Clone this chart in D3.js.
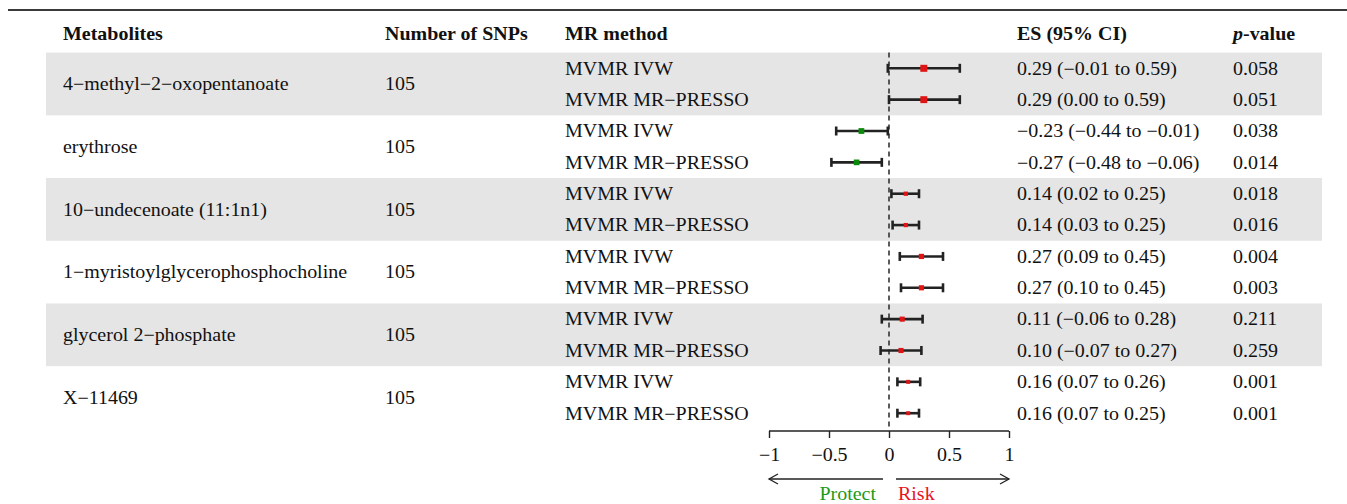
<!DOCTYPE html>
<html>
<head>
<meta charset="utf-8">
<script src="https://cdn.jsdelivr.net/npm/d3@7"></script>
<style>
  html, body { margin: 0; padding: 0; background: #fff; }
  svg { display: block; }
  text { font-family: "Liberation Serif", "Times New Roman", serif; fill: #111; }
</style>
</head>
<body>
<svg id="chart" width="1347" height="504"></svg>
<script>
// ---------------- DATA ----------------
const metabolites = ["4\u2212methyl\u22122\u2212oxopentanoate", "erythrose", "10\u2212undecenoate (11:1n1)",
  "1\u2212myristoylglycerophosphocholine", "glycerol 2\u2212phosphate", "X\u221211469"];
const nSNPs = [105, 105, 105, 105, 105, 105];
const methods = ["MVMR IVW", "MVMR MR\u2212PRESSO"];
const estimates = [0.29, 0.29, -0.23, -0.27, 0.14, 0.14, 0.27, 0.27, 0.11, 0.10, 0.16, 0.16];
const lowerCI   = [-0.01, 0.00, -0.44, -0.48, 0.02, 0.03, 0.09, 0.10, -0.06, -0.07, 0.07, 0.07];
const upperCI   = [0.59, 0.59, -0.01, -0.06, 0.25, 0.25, 0.45, 0.45, 0.28, 0.27, 0.26, 0.25];
const pValues   = ["0.058", "0.051", "0.038", "0.014", "0.018", "0.016", "0.004", "0.003", "0.211", "0.259", "0.001", "0.001"];
const axisTicks = [-1, -0.5, 0, 0.5, 1];
const headers = ["Metabolites", "Number of SNPs", "MR method", "ES (95% CI)"];

// ---------------- LAYOUT ----------------
const svg = d3.select("#chart");
const FS = 18;
const SX = 1.11; // horizontal stretch of the reference text
const colX = { met: 63, snp: 385, method: 565, es: 1017, p: 1233 };
const x = d3.scaleLinear().domain([-1, 1]).range([769, 1009]);
const y = d3.scaleLinear().domain([0, 11]).range([68.3, 413.2]);
const step = y(1) - y(0);
const nRows = estimates.length;

const fmt = v => (v < 0 ? "\u2212" : "") + Math.abs(v).toFixed(2);
const esLabel = i => `${fmt(estimates[i])} (${fmt(lowerCI[i])} to ${fmt(upperCI[i])})`;

function txt(px, py, s, opts = {}) {
  const t = svg.append("text")
    .attr("transform", `translate(${px},${py}) scale(${SX},1)`)
    .attr("dy", "0.35em").attr("font-size", FS)
    .attr("text-anchor", opts.anchor || "start");
  if (opts.bold) t.attr("font-weight", "bold");
  if (opts.fill) t.style("fill", opts.fill);
  if (s !== null) t.text(s);
  return t;
}

// Top rule
svg.append("line").attr("x1", 8).attr("x2", 1347).attr("y1", 10).attr("y2", 10)
  .attr("stroke", "#3a3a3a").attr("stroke-width", 2);

// Group bands (alternating)
metabolites.forEach((m, g) => {
  if (g % 2 === 0) {
    svg.append("rect")
      .attr("x", 46).attr("width", 1322 - 46)
      .attr("y", y(2 * g) - step / 2).attr("height", step * 2)
      .attr("fill", "#e5e5e5");
  }
});

// Headers
const hy = 34;
txt(colX.met, hy, headers[0], { bold: true });
txt(colX.snp, hy, headers[1], { bold: true });
txt(colX.method, hy, headers[2], { bold: true });
txt(colX.es, hy, headers[3], { bold: true });
const pt = txt(colX.p, hy, null, { bold: true });
pt.append("tspan").attr("font-style", "italic").text("p");
pt.append("tspan").text("-value");

// Metabolite + SNP columns
metabolites.forEach((m, g) => {
  const cy = (y(2 * g) + y(2 * g + 1)) / 2;
  txt(colX.met, cy, m);
  txt(colX.snp, cy, String(nSNPs[g]));
});

// Per-row text
d3.range(nRows).forEach(i => {
  txt(colX.method, y(i), methods[i % 2]);
  txt(colX.es, y(i), esLabel(i));
  txt(colX.p, y(i), pValues[i]);
});

// Reference dashed line
svg.append("line").attr("x1", x(0)).attr("x2", x(0))
  .attr("y1", y(0) - step / 2).attr("y2", y(11) + step / 2)
  .attr("stroke", "#333").attr("stroke-width", 1.6).attr("stroke-dasharray", "5,4");

// CIs and points
const sizeScale = d3.scaleLinear().domain([0.19, 0.60]).range([4, 7]);
const forest = svg.append("g");
d3.range(nRows).forEach(i => {
  const yy = y(i);
  forest.append("line").attr("x1", x(lowerCI[i])).attr("x2", x(upperCI[i]))
    .attr("y1", yy).attr("y2", yy).attr("stroke", "#222").attr("stroke-width", 2.6);
  [lowerCI[i], upperCI[i]].forEach(v => {
    forest.append("line").attr("x1", x(v)).attr("x2", x(v))
      .attr("y1", yy - 4.5).attr("y2", yy + 4.5).attr("stroke", "#222").attr("stroke-width", 2.6);
  });
  const s = sizeScale(upperCI[i] - lowerCI[i]);
  forest.append("rect").attr("x", x(estimates[i]) - s / 2).attr("y", yy - s / 2)
    .attr("width", s).attr("height", s)
    .attr("fill", estimates[i] < 0 ? "#0a8a0a" : "#e01414");
});

// Axis
const axisY = 431;
const axis = d3.axisBottom(x).tickValues(axisTicks).tickSize(7)
  .tickFormat(d => d === 0 ? "0" : (d < 0 ? "\u2212" : "") + Math.abs(d));
const ag = svg.append("g").attr("transform", `translate(0,${axisY})`).call(axis);
ag.select(".domain").attr("stroke", "#222").attr("stroke-width", 1.4).attr("d", `M${x(-1)},0H${x(1)}`);
ag.selectAll(".tick line").attr("stroke", "#222").attr("stroke-width", 1.4);
ag.selectAll(".tick text").attr("font-family", "Liberation Serif").attr("font-size", FS)
  .attr("fill", "#111").attr("y", 0).attr("dy", "0.35em")
  .attr("transform", `translate(0,24) scale(${SX},1)`);

// Arrows
const arrY = 479;
const arr = svg.append("g").attr("stroke", "#222").attr("stroke-width", 1.3).attr("fill", "none");
arr.append("line").attr("x1", x(-1)).attr("x2", x(0) - 6).attr("y1", arrY).attr("y2", arrY);
arr.append("path").attr("d", `M${x(-1) + 9},${arrY - 5}L${x(-1)},${arrY}L${x(-1) + 9},${arrY + 5}`);
arr.append("line").attr("x1", x(0) + 7).attr("x2", x(1)).attr("y1", arrY).attr("y2", arrY);
arr.append("path").attr("d", `M${x(1) - 9},${arrY - 5}L${x(1)},${arrY}L${x(1) - 9},${arrY + 5}`);

txt(x(0) - 13, 494, "Protect", { anchor: "end", fill: "#1a9a1a" });
txt(x(0) + 9, 494, "Risk", { anchor: "start", fill: "#e8141c" });
</script>
</body>
</html>
